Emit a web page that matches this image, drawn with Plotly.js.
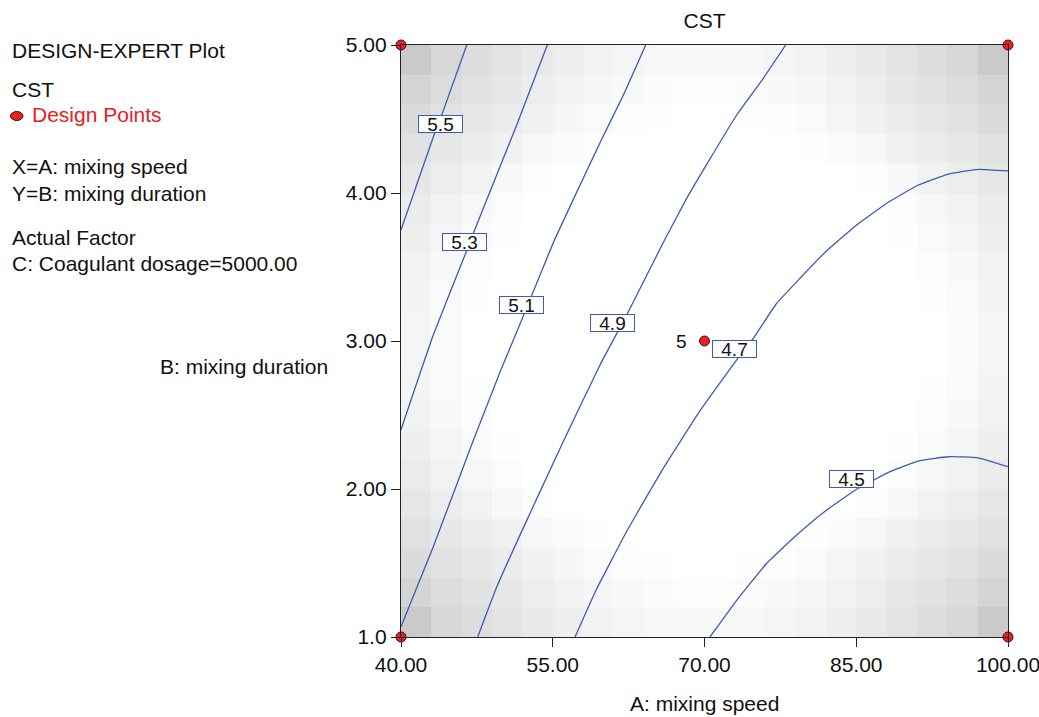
<!DOCTYPE html>
<html><head><meta charset="utf-8">
<script src="https://cdn.plot.ly/plotly-3.0.1.min.js"></script>
<style>html,body{margin:0;padding:0;background:#fff}#chart{width:1039px;height:717px}</style>
</head><body><div id="chart"></div>
<script>
// ---- data ----
const cellA = [41.5,44.5,47.5,50.5,53.5,56.5,59.5,62.5,65.5,68.5,71.5,74.5,77.5,80.5,83.5,86.5,89.5,92.5,95.5,98.5];
const cellB = [1.1,1.3,1.5,1.7,1.9,2.1,2.3,2.5,2.7,2.9,3.1,3.3,3.5,3.7,3.9,4.1,4.3,4.5,4.7,4.9];
// grey level of the shaded background (row 0 = bottom)
const seGrey = [
 [202,215,221,227,233,238,242,245,247,248,248,247,245,242,238,233,227,221,215,202],
 [212,220,226,231,237,242,246,249,251,252,252,251,249,246,242,237,231,226,220,212],
 [219,226,231,236,241,246,250,253,254,255,255,254,253,250,246,241,236,231,226,219],
 [225,231,236,241,247,251,254,255,255,255,255,255,255,254,251,247,241,236,231,225],
 [230,237,242,248,252,255,255,255,255,255,255,255,255,255,255,252,248,242,237,230],
 [235,242,247,252,255,255,255,255,255,255,255,255,255,255,255,255,252,247,242,235],
 [239,245,250,254,255,255,255,255,255,255,255,255,255,255,255,255,254,250,245,239],
 [242,248,252,255,255,255,255,255,255,255,255,255,255,255,255,255,255,252,248,242],
 [244,250,254,255,255,255,255,255,255,255,255,255,255,255,255,255,255,254,250,244],
 [245,251,255,255,255,255,255,255,255,255,255,255,255,255,255,255,255,255,251,245],
 [245,251,255,255,255,255,255,255,255,255,255,255,255,255,255,255,255,255,251,245],
 [244,250,254,255,255,255,255,255,255,255,255,255,255,255,255,255,255,254,250,244],
 [242,248,252,255,255,255,255,255,255,255,255,255,255,255,255,255,255,252,248,242],
 [239,245,250,254,255,255,255,255,255,255,255,255,255,255,255,255,254,250,245,239],
 [235,242,247,252,255,255,255,255,255,255,255,255,255,255,255,255,252,247,242,235],
 [230,237,242,248,252,255,255,255,255,255,255,255,255,255,255,252,248,242,237,230],
 [225,231,236,241,247,251,254,255,255,255,255,255,255,254,251,247,241,236,231,225],
 [219,226,231,236,241,246,250,253,254,255,255,254,253,250,246,241,236,231,226,219],
 [212,220,226,231,237,242,246,249,251,252,252,251,249,246,242,237,231,226,220,212],
 [202,215,221,227,233,238,242,245,247,248,248,247,245,242,238,233,227,221,215,202]
];

// contour lines of CST (A = mixing speed, B = mixing duration)
const c55A = [46.5, 44.2, 43.2, 40.0];
const c55B = [5.0, 4.56, 4.38, 3.75];
const c53A = [54.46, 51.44, 47.22, 46.49, 43.19, 40.0];
const c53B = [5.0, 4.46, 3.74, 3.61, 3.04, 2.40];
const c51A = [64.19, 61.97, 59.67, 55.22, 52.16, 49.79, 46.99, 43.19, 40.0];
const c51B = [5.0, 4.66, 4.34, 3.69, 3.18, 2.79, 2.30, 1.61, 1.07];
const c49A = [78.03, 75.81, 73.18, 70.38, 68.24, 65.85, 62.31, 59.67, 55.88, 52.43, 49.46, 47.58];
const c49B = [5.0, 4.775, 4.527, 4.212, 3.964, 3.655, 3.176, 2.838, 2.297, 1.788, 1.338, 1.0];
const c47A = [100, 97.06, 94.10, 91.13, 88.17, 85.04, 82.08, 79.44, 77.14, 74.82, 73.31, 69.61, 65.82, 62.38, 59.29, 57.2];
const c47B = [4.149, 4.160, 4.128, 4.054, 3.937, 3.784, 3.610, 3.424, 3.255, 3.018, 2.885, 2.534, 2.128, 1.723, 1.318, 1.0];
const c45A = [70.54, 73.18, 76.15, 79.11, 82.08, 85.04, 88.34, 91.13, 94.10, 97.06, 100];
const c45B = [1.0, 1.248, 1.498, 1.689, 1.858, 1.998, 2.117, 2.189, 2.218, 2.211, 2.151];

const levelText = ['5.5','5.3','5.1','4.9','4.7','4.5'];
const levelA = [43.87, 46.25, 51.94, 60.91, 72.94, 84.56];
const levelB = [4.468, 3.669, 3.240, 3.120, 2.947, 2.070];

const ptA = [40, 40, 100, 100, 70];
const ptB = [1, 5, 1, 5, 3];
const centerReps = '5';

const xTicks = [40, 55, 70, 85, 100];
const xTickText = ['40.00','55.00','70.00','85.00','100.00'];
const yTicks = [1, 2, 3, 4, 5];
const yTickText = ['1.0','2.00','3.00','4.00','5.00'];

const infoLines = [
  {t:'DESIGN-EXPERT Plot', y:50, c:'#111'},
  {t:'CST', y:90, c:'#111'},
  {t:'Design Points', y:115, c:'#e8201e', x:30},
  {t:'X=A: mixing speed', y:167, c:'#111'},
  {t:'Y=B: mixing duration', y:194, c:'#111'},
  {t:'Actual Factor', y:238, c:'#111'},
  {t:'C: Coagulant dosage=5000.00', y:263, c:'#111'}
];

// ---- drawing ----
const FONT = 'Arial, "Liberation Sans", sans-serif';
const BLUE = '#3d5bb2';
const L = 401, R = 1008, T = 45, B = 637;
const px = v => (v - L) / (R - L);
const py = v => (B - v) / (B - T);

const traces = [{
  type:'heatmap', x: cellA, y: cellB, z: seGrey, zmin:200, zmax:255,
  colorscale:[[0,'rgb(200,200,200)'],[1,'rgb(255,255,255)']],
  showscale:false, hoverinfo:'skip'
}];
[[c55A,c55B],[c53A,c53B],[c51A,c51B],[c49A,c49B],[c47A,c47B],[c45A,c45B]].forEach(p=>{
  traces.push({type:'scatter', mode:'lines', x:p[0], y:p[1],
    line:{color:BLUE, width:1.3, shape:'spline', smoothing:0.35}, hoverinfo:'skip', showlegend:false});
});
traces.push({type:'scatter', mode:'markers', x:ptA, y:ptB, cliponaxis:false,
  marker:{color:'#ee1f1f', size:10, line:{color:'#331111', width:1}}, showlegend:false});

const ann = [];
levelText.forEach((t,i)=>{
  ann.push({x:levelA[i], y:levelB[i], xref:'x', yref:'y', text:t, showarrow:false,
    font:{family:FONT, size:19, color:'#111'}, bgcolor:'#fff', bordercolor:BLUE, borderwidth:1,
    borderpad:0, width:43, height:16, xanchor:'center', yanchor:'middle'});
});
ann.push({x:70, y:3, xref:'x', yref:'y', text:centerReps, showarrow:false, xanchor:'right', xshift:-16,
  font:{family:FONT, size:19, color:'#111'}});
infoLines.forEach(o=>{
  ann.push({x:px(o.x || 10), y:py(o.y), xref:'paper', yref:'paper', text:o.t, showarrow:false,
    xanchor:'left', yanchor:'middle', font:{family:FONT, size:21, color:o.c}});
});
ann.push({x:px(704.5), y:py(703), xref:'paper', yref:'paper', text:'A: mixing speed', showarrow:false,
  xanchor:'center', yanchor:'middle', font:{family:FONT, size:21, color:'#111'}});
ann.push({x:px(330), y:py(367), xref:'paper', yref:'paper', text:'B: mixing duration', showarrow:false,
  xanchor:'right', yanchor:'middle', font:{family:FONT, size:21, color:'#111'}});

const layout = {
  width:1039, height:717,
  margin:{l:L, r:1039-R, t:T, b:717-B, pad:0},
  paper_bgcolor:'#fff', plot_bgcolor:'#fff',
  font:{family:FONT, color:'#111'},
  title:{text:'CST', font:{family:FONT, size:21, color:'#111'}, x:0.5, xref:'paper',
    y:1-21/717, yref:'container', yanchor:'middle'},
  xaxis:{range:[40,100], tickvals:xTicks, ticktext:xTickText, ticks:'outside', ticklen:9,
    tickcolor:'#222', showline:true, linecolor:'#222', linewidth:1.2, mirror:true, showgrid:false,
    zeroline:false, ticklabeloverflow:'allow', tickfont:{family:FONT, size:21, color:'#111'}},
  yaxis:{range:[1,5], tickvals:yTicks, ticktext:yTickText, ticks:'outside', ticklen:9,
    tickcolor:'#222', showline:true, linecolor:'#222', linewidth:1.2, mirror:true, showgrid:false,
    zeroline:false, ticklabeloverflow:'allow', tickfont:{family:FONT, size:21, color:'#111'}},
  shapes:[{type:'circle', xref:'paper', yref:'paper', x0:px(10.5), x1:px(23), y0:py(120.5), y1:py(111.5),
    fillcolor:'#e8201e', line:{color:'#331111', width:1}}],
  annotations: ann,
  showlegend:false
};
Plotly.newPlot('chart', traces, layout, {displayModeBar:false, staticPlot:true});
</script></body></html>
